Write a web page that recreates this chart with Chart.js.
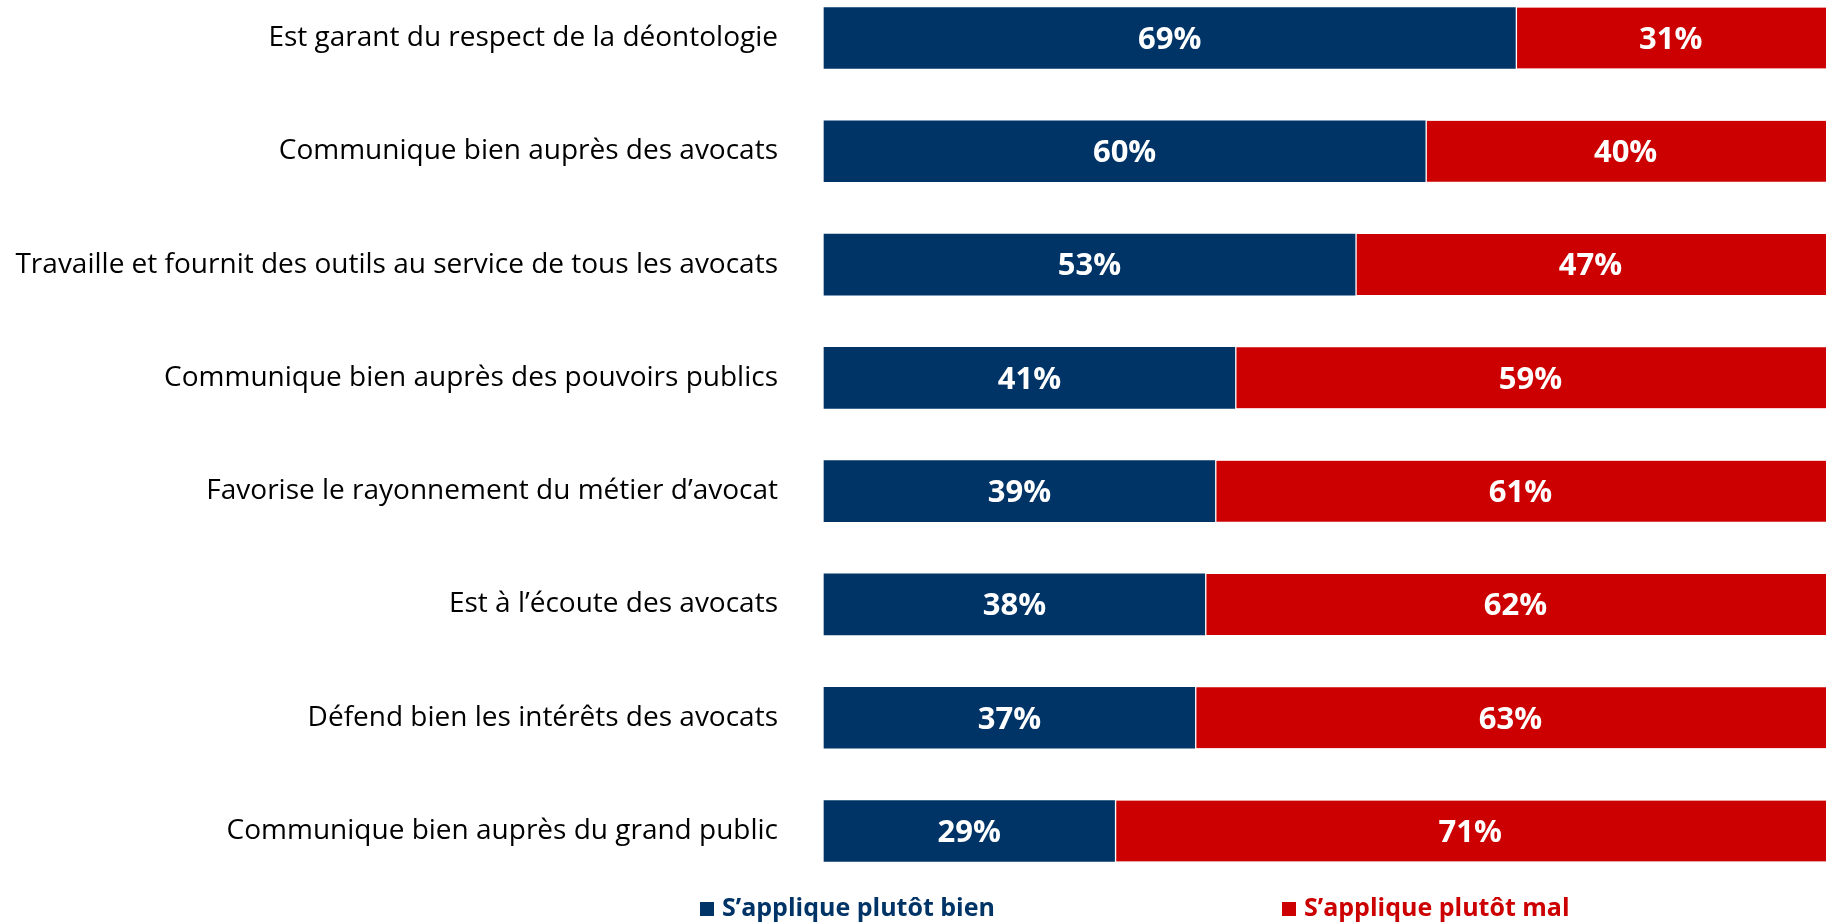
<!DOCTYPE html>
<html>
<head>
<meta charset="utf-8">
<script src="https://cdn.jsdelivr.net/npm/chart.js@4.4.1/dist/chart.umd.min.js"></script>
<style>
  html, body { margin: 0; padding: 0; background: #fff; }
  #wrap { width: 1828px; height: 923px; }
</style>
</head>
<body>
<div id="wrap"><canvas id="chart" width="1828" height="923"></canvas></div>
<script>
// ── Data ──
const categories = [
  'Est garant du respect de la déontologie',
  'Communique bien auprès des avocats',
  'Travaille et fournit des outils au service de tous les avocats',
  'Communique bien auprès des pouvoirs publics',
  'Favorise le rayonnement du métier d’avocat',
  'Est à l’écoute des avocats',
  'Défend bien les intérêts des avocats',
  'Communique bien auprès du grand public',
];
const seriesNames = ['S’applique plutôt bien', 'S’applique plutôt mal'];
const bienValues = [69, 60, 53, 41, 39, 38, 37, 29];
const malValues = [31, 40, 47, 59, 61, 62, 63, 71];

const BLUE = '#003466';
const RED = '#CC0000';
const FONT = '"Open Sans", Lato, sans-serif';

// white % labels centred in each segment
const segmentLabels = {
  id: 'segmentLabels',
  afterDatasetsDraw(chart) {
    const ctx = chart.ctx;
    ctx.save();
    ctx.fillStyle = '#fff';
    ctx.font = `bold 31px ${FONT}`;
    ctx.textAlign = 'center';
    ctx.textBaseline = 'middle';
    chart.data.datasets.forEach((ds, di) => {
      chart.getDatasetMeta(di).data.forEach((bar, i) => {
        const { x, base, y } = bar.getProps(['x', 'base', 'y'], true);
        ctx.fillText(ds.data[i] + '%', (x + base) / 2, y + 2);
      });
    });
    ctx.restore();
  }
};

// legend under the bars, one item under each half
const bottomLegend = {
  id: 'bottomLegend',
  afterDraw(chart) {
    const ctx = chart.ctx;
    const spots = [700, 1282];
    const y = 909;
    ctx.save();
    ctx.font = `bold 25px ${FONT}`;
    ctx.textBaseline = 'middle';
    ctx.textAlign = 'left';
    chart.data.datasets.forEach((ds, di) => {
      const x = spots[di];
      ctx.fillStyle = ds.backgroundColor;
      ctx.fillRect(x, y - 7, 14, 14);
      ctx.fillText(ds.label, x + 22, y);
    });
    ctx.restore();
  }
};

new Chart(document.getElementById('chart'), {
  type: 'bar',
  data: {
    labels: categories,
    datasets: [
      {
        label: seriesNames[0],
        data: bienValues,
        backgroundColor: BLUE,
        borderWidth: 0,
        barThickness: 61,
        clip: false,
      },
      {
        label: seriesNames[1],
        data: malValues,
        backgroundColor: RED,
        borderColor: '#fff',
        borderWidth: { left: 2, top: 0, right: 0, bottom: 0 },
        borderSkipped: false,
        barThickness: 61,
        clip: false,
      }
    ]
  },
  options: {
    indexAxis: 'y',
    responsive: false,
    animation: false,
    layout: { padding: { top: 38, bottom: 92, left: 0, right: 2 } },
    plugins: {
      legend: { display: false },
      tooltip: { enabled: false },
    },
    scales: {
      x: { stacked: true, min: 0, max: 100, display: false },
      y: {
        stacked: true,
        offset: false,
        grid: { display: false, drawTicks: false },
        border: { display: false },
        ticks: { color: '#000', font: { family: FONT, size: 28 }, padding: 46 },
        afterFit: (scale) => {
          scale.width = 824;
          // tick padding otherwise gets added to the top/bottom overhang
          scale.paddingTop = 0;
          scale.paddingBottom = 0;
        },
      }
    }
  },
  plugins: [segmentLabels, bottomLegend]
});
</script>
</body>
</html>
